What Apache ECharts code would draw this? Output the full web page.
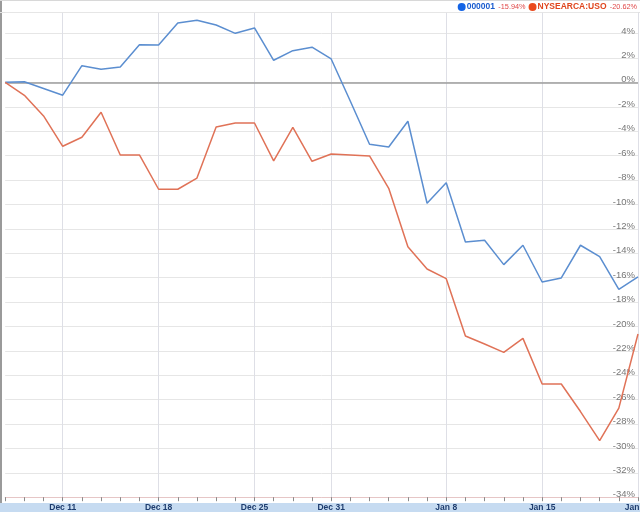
<!DOCTYPE html>
<html>
<head>
<meta charset="utf-8">
<script src="https://cdn.jsdelivr.net/npm/echarts@6/dist/echarts.min.js"></script>
<style>html,body{margin:0;padding:0;background:#fff}#c{width:640px;height:512px}</style>
</head>
<body>
<div id="c"></div>
<script>
// Trading days (category axis)
var categories = ["Dec 6","Dec 7","Dec 10","Dec 11","Dec 12","Dec 13","Dec 14","Dec 17","Dec 18","Dec 19","Dec 20","Dec 21","Dec 24","Dec 25","Dec 26","Dec 27","Dec 28","Dec 31","Jan 1","Jan 2","Jan 3","Jan 4","Jan 7","Jan 8","Jan 9","Jan 10","Jan 11","Jan 14","Jan 15","Jan 16","Jan 17","Jan 18","Jan 21","Jan 22"];
var tickLabels = ["Dec 11","Dec 18","Dec 25","Dec 31","Jan 8","Jan 15","Jan 22"];
var seriesNames = ["000001","NYSEARCA:USO"];
// % change
var sse = [0, 0.05, -0.5, -1.05, 1.37, 1.07, 1.26, 3.09, 3.07, 4.87, 5.09, 4.7, 4.02, 4.46, 1.81, 2.6, 2.88, 1.92, -1.55, -5.07, -5.3, -3.19, -9.91, -8.22, -13.08, -12.94, -14.94, -13.35, -16.36, -16.03, -13.35, -14.29, -16.96, -15.94];
var uso = [0, -1.06, -2.75, -5.24, -4.5, -2.45, -5.95, -5.95, -8.76, -8.76, -7.84, -3.66, -3.33, -3.33, -6.44, -3.68, -6.47, -5.87, -5.95, -6.03, -8.68, -13.47, -15.3, -16.09, -20.79, -21.44, -22.13, -20.98, -24.72, -24.72, -26.98, -29.37, -26.7, -20.62];
var yMin = -34, yMax = 5.71, yStep = 2;

var lastVals = {};
lastVals[seriesNames[0]] = sse[sse.length - 1];
lastVals[seriesNames[1]] = uso[uso.length - 1];

var chart = echarts.init(document.getElementById('c'), null, {renderer: 'canvas'});
var isTick = function (idx, val) { return tickLabels.indexOf(categories[idx]) >= 0; };
chart.setOption({
  animation: false,
  backgroundColor: '#fff',
  graphic: [
    {type: 'rect', shape: {x: 0, y: 503, width: 640, height: 9}, style: {fill: '#c6dbf1'}, z: -1},
    {type: 'line', shape: {x1: 1, y1: 0, x2: 1, y2: 503}, style: {stroke: '#9a9a9a', lineWidth: 2}},
    {type: 'line', shape: {x1: 0, y1: 0.5, x2: 640, y2: 0.5}, style: {stroke: '#d8d8d8', lineWidth: 1}},
    {type: 'line', shape: {x1: 0, y1: 12.5, x2: 640, y2: 12.5}, style: {stroke: '#e2e2e2', lineWidth: 1}}
  ],
  legend: {
    right: 3, top: 0,
    icon: 'circle', itemWidth: 8, itemHeight: 8, itemGap: 3,
    padding: [1, 0, 0, 0],
    data: [
      {name: seriesNames[0], itemStyle: {color: '#1464e6'}, textStyle: {color: '#1a5ccf'}},
      {name: seriesNames[1], itemStyle: {color: '#ea4a1e'}, textStyle: {color: '#e0461e'}}
    ],
    formatter: function (name) {
      return '{n|' + name + '} {v|' + lastVals[name].toFixed(2) + '%}';
    },
    textStyle: {
      fontFamily: 'Liberation Sans, Arial, sans-serif',
      padding: [0, 0, 0, -4],
      rich: {
        n: {fontSize: 8.5, fontWeight: 'bold'},
        v: {fontSize: 7.3, color: '#e04848'}
      }
    }
  },
  grid: {left: 5.2, right: 2, top: 12.7, bottom: 14.8, containLabel: false, outerBoundsMode: 'none'},
  xAxis: {
    type: 'category',
    data: categories,
    boundaryGap: false,
    axisLine: {show: true, onZero: false, lineStyle: {color: '#e6c6c6', width: 1}},
    axisTick: {show: true, interval: 0, length: 4, lineStyle: {color: '#8a8a8a'}},
    axisLabel: {
      interval: isTick,
      margin: 6,
      fontSize: 8.5,
      fontWeight: 'bold',
      color: '#1d3c6e',
      hideOverlap: false,
      showMaxLabel: true,
      fontFamily: 'Liberation Sans, Arial, sans-serif',
      formatter: function (v) { return v; }
    },
    splitLine: {show: true, interval: isTick, lineStyle: {color: '#dedfe6', width: 1}}
  },
  yAxis: {
    type: 'value',
    position: 'right',
    min: yMin, max: yMax, interval: yStep,
    axisLine: {show: false},
    axisTick: {show: false},
    axisLabel: {
      inside: true,
      margin: 3,
      showMaxLabel: false,
      fontSize: 9.5,
      color: '#777',
      fontFamily: 'Liberation Sans, Arial, sans-serif',
      formatter: function (v) { return '{a|' + v + '%}'; },
      rich: {a: {fontSize: 9.5, color: '#777', padding: [0, 0, 5, 0], fontFamily: 'Liberation Sans, Arial, sans-serif'}}
    },
    splitLine: {show: true, lineStyle: {color: '#e6e6e6', width: 1}}
  },
  series: [
    {
      name: seriesNames[0], type: 'line', data: sse,
      showSymbol: false, symbol: 'none',
      lineStyle: {color: '#5b8ed0', width: 1.5},
      itemStyle: {color: '#5b8ed0'},
      z: 3,
      markLine: {
        silent: true, symbol: 'none', label: {show: false},
        lineStyle: {color: '#9c9c9c', type: 'solid', width: 1.5},
        data: [{yAxis: 0}],
        z: 1
      }
    },
    {
      name: seriesNames[1], type: 'line', data: uso,
      showSymbol: false, symbol: 'none',
      lineStyle: {color: '#e07257', width: 1.5},
      itemStyle: {color: '#e07257'},
      z: 3
    }
  ]
});
</script>
</body>
</html>
